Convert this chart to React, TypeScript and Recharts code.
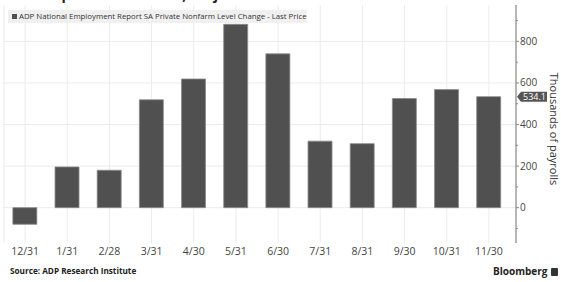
import React from 'react';
import {
  BarChart,
  Bar,
  XAxis,
  YAxis,
  CartesianGrid,
  ReferenceLine
} from 'recharts';

// ADP private nonfarm payroll change, thousands
const months = ['12/31', '1/31', '2/28', '3/31', '4/30', '5/31', '6/30', '7/31', '8/31', '9/30', '10/31', '11/30'];
const payrolls = [-80, 196, 180, 519, 619, 882, 740, 320, 308, 525, 568, 534.1];
const yTicks = [-100, 0, 100, 200, 300, 400, 500, 600, 700, 800, 900];
const yLabelTicks = [0, 200, 400, 600, 800];
const lastValue = payrolls[payrolls.length - 1];

const FONT = '"Open Sans", "Noto Sans", sans-serif';
const TEXT = '#444';

const data = months.map((m, i) => ({ month: m, value: payrolls[i] }));

function XTick(props: any) {
  const { x, y, payload } = props;
  return (
    <text x={x} y={y + 11.5} textAnchor="middle" fontSize={10.5} fill={TEXT} fontFamily={FONT}>
      {payload.value}
    </text>
  );
}

function YTick(props: any) {
  const { x, y, payload } = props;
  const major = yLabelTicks.includes(payload.value);
  return (
    <g>
      <line x1={x} x2={x + (major ? 3 : 2)} y1={y} y2={y} stroke="#888" strokeWidth={1} />
      {major && (
        <text x={x + 4} y={y + 3.5} fontSize={10} fill={TEXT} fontFamily={FONT}>
          {payload.value}
        </text>
      )}
    </g>
  );
}

function LastTag(props: any) {
  const { viewBox } = props;
  const x = viewBox.x + viewBox.width + 1;
  const y = viewBox.y;
  return (
    <g>
      <path
        d={`M${x} ${y} L${x + 4} ${y - 5} L${x + 30} ${y - 5} L${x + 30} ${y + 5} L${x + 4} ${y + 5} Z`}
        fill="#555"
      />
      <text x={x + 17.5} y={y + 3.5} textAnchor="middle" fontSize={9} fill="#fff" fontFamily={FONT}>
        {lastValue}
      </text>
    </g>
  );
}

export default function App() {
  return (
    <div
      style={{
        position: 'absolute',
        left: 0,
        top: 0,
        width: 561,
        height: 282,
        background: '#fff',
        overflow: 'hidden',
        fontFamily: FONT
      }}
    >
      {/* headline sits above the crop, only its lower edge shows */}
      <div
        style={{
          position: 'absolute',
          left: 2,
          top: -15,
          fontSize: 14,
          fontWeight: 700,
          color: '#222',
          whiteSpace: 'nowrap'
        }}
      >
        U.S. companies added 534,000 jobs in November
      </div>

      <BarChart
        width={561}
        height={282}
        data={data}
        margin={{ top: 5, right: 0, bottom: 19, left: 4 }}
        barCategoryGap="21%"
      >
        <CartesianGrid stroke="#ebebeb" horizontalValues={yLabelTicks} />
        <XAxis
          dataKey="month"
          height={20}
          axisLine={false}
          tickLine={false}
          tickSize={0}
          tickMargin={0}
          interval={0}
          padding={{ left: 0, right: 6 }}
          tick={<XTick />}
        />
        <YAxis
          orientation="right"
          width={45}
          domain={[-170, 975]}
          ticks={yTicks}
          interval={0}
          axisLine={{ stroke: '#777' }}
          tickLine={false}
          tickSize={0}
          tickMargin={0}
          tick={<YTick />}
        />
        <Bar
          dataKey="value"
          fill="#505050"
          stroke="#8c8c8c"
          strokeWidth={0.8}
          isAnimationActive={false}
        />
        <ReferenceLine y={lastValue} stroke="none" label={<LastTag />} />
      </BarChart>

      {/* legend */}
      <div
        style={{
          position: 'absolute',
          left: 8,
          top: 10,
          width: 299,
          height: 13,
          background: '#f0f0f0',
          fontSize: 7.8,
          color: '#333',
          lineHeight: '13px',
          whiteSpace: 'nowrap',
          paddingLeft: 4,
          boxSizing: 'border-box'
        }}
      >
        <span
          style={{
            display: 'inline-block',
            width: 5,
            height: 5,
            background: '#505050',
            marginRight: 2,
            verticalAlign: 'middle'
          }}
        />
        ADP National Employment Report SA Private Nonfarm Level Change - Last Price
      </div>

      {/* right axis title */}
      <div
        style={{
          position: 'absolute',
          left: 554,
          top: 129,
          transform: 'translate(-50%, -50%) rotate(90deg)',
          fontSize: 11,
          color: '#333',
          whiteSpace: 'nowrap'
        }}
      >
        Thousands of payrolls
      </div>

      {/* footer */}
      <div
        style={{
          position: 'absolute',
          left: 10,
          top: 265,
          fontSize: 8.2,
          fontWeight: 700,
          color: '#222',
          whiteSpace: 'nowrap'
        }}
      >
        Source: ADP Research Institute
      </div>
      <div
        style={{
          position: 'absolute',
          left: 493,
          top: 264,
          fontSize: 10,
          fontWeight: 700,
          color: '#222',
          whiteSpace: 'nowrap'
        }}
      >
        Bloomberg
      </div>
      <div
        style={{
          position: 'absolute',
          left: 551,
          top: 268,
          width: 7,
          height: 8,
          background: '#333',
          borderRadius: 1
        }}
      />
    </div>
  );
}
